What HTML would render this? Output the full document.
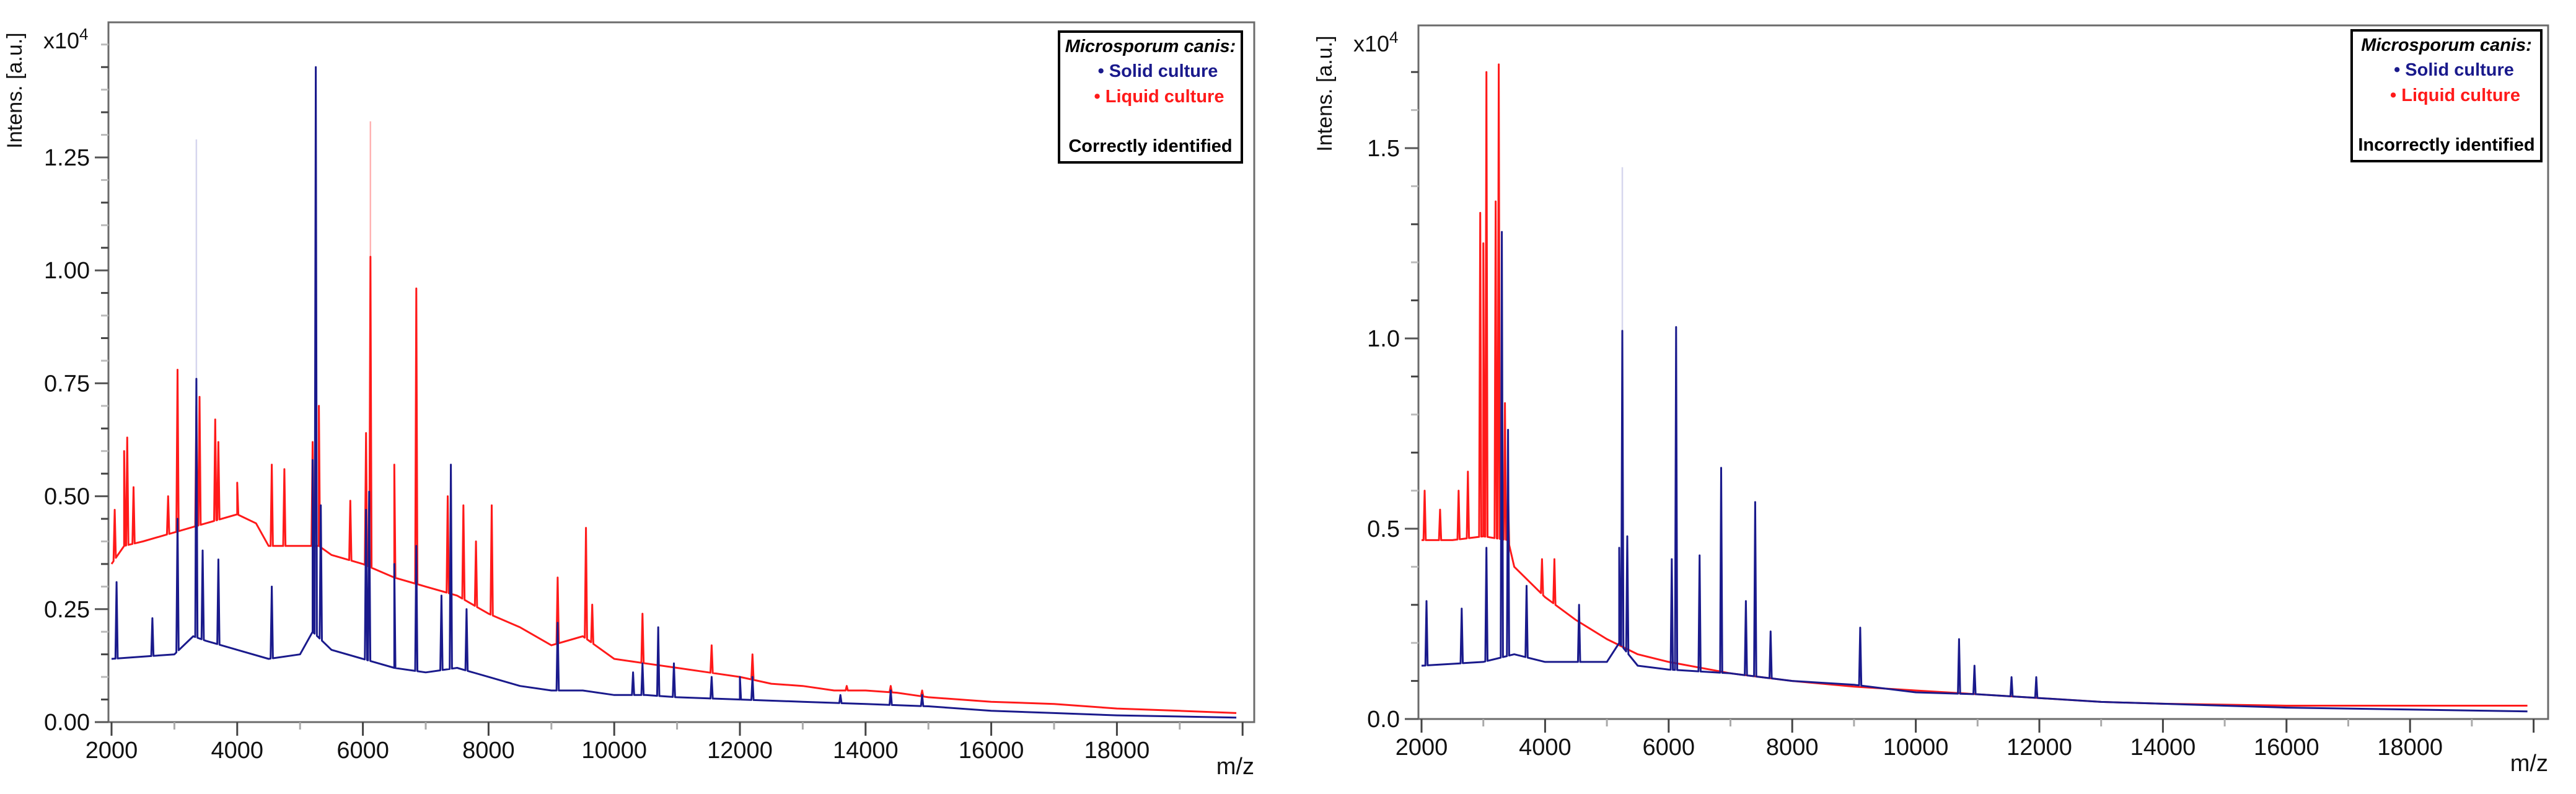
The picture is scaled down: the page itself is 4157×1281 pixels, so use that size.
<!DOCTYPE html>
<html><head><meta charset="utf-8">
<style>
html,body{margin:0;padding:0;background:#fff;}
svg{display:block;font-family:"Liberation Sans",sans-serif;}
.leg{font-family:"Liberation Sans Narrow","Liberation Sans",sans-serif;font-weight:bold;font-size:29px;}
</style></head>
<body>
<svg id="fig" width="4157" height="1281" viewBox="0 0 4157 1281" xmlns="http://www.w3.org/2000/svg">
<g id="left"></g>
<g id="right"></g>
</svg>
<script>
// ---- Left panel data (intensity x10^4) ----
const leftRedBaseMz = [2000,2200,2500,3000,3500,4000,4300,4500,5000,5300,5500,6000,6500,7000,7500,8000,8500,9000,9500,10000,10500,11000,11500,12000,12500,13000,13500,14000,14500,15000,16000,17000,18000,19000,19900];
const leftRedBaseVal = [0.35,0.39,0.40,0.42,0.44,0.46,0.44,0.39,0.39,0.39,0.37,0.35,0.32,0.30,0.28,0.24,0.21,0.17,0.19,0.14,0.13,0.12,0.11,0.10,0.085,0.08,0.07,0.07,0.065,0.055,0.045,0.04,0.03,0.025,0.02];
const leftRedPeakMz = [2050,2200,2250,2350,2900,3050,3350,3400,3650,3700,4000,4550,4750,5200,5300,5800,6050,6120,6500,6850,7350,7600,7800,8050,9100,9550,9650,10450,11550,12200,13700,14400,14900];
const leftRedPeakVal = [0.47,0.60,0.63,0.52,0.50,0.78,0.70,0.72,0.67,0.62,0.53,0.57,0.56,0.62,0.70,0.49,0.64,1.03,0.57,0.96,0.50,0.48,0.40,0.48,0.32,0.43,0.26,0.24,0.17,0.15,0.08,0.08,0.07];
const leftRedFaintMz = [6120,6850];
const leftRedFaintVal = [1.33,0.96];
const leftBlueBaseMz = [2000,3000,3300,3500,4000,4500,5000,5200,5500,6000,6500,7000,7500,8000,8500,9000,9500,10000,10500,11000,12000,13000,14000,15000,16000,17000,18000,19900];
const leftBlueBaseVal = [0.14,0.15,0.19,0.18,0.16,0.14,0.15,0.20,0.16,0.14,0.12,0.11,0.12,0.10,0.08,0.07,0.07,0.06,0.06,0.055,0.05,0.045,0.04,0.035,0.025,0.02,0.015,0.01];
const leftBluePeakMz = [2080,2650,3050,3350,3450,3700,4550,5200,5250,5330,6050,6100,6500,6850,7250,7400,7650,9100,10300,10450,10700,10950,11550,12000,12200,13600,14400,14900];
const leftBluePeakVal = [0.31,0.23,0.45,0.76,0.38,0.36,0.30,0.58,1.45,0.48,0.47,0.51,0.35,0.39,0.28,0.57,0.25,0.22,0.11,0.13,0.21,0.13,0.10,0.10,0.10,0.06,0.07,0.06];
const leftBlueFaintMz = [3350];
const leftBlueFaintVal = [1.29];
const leftYTicks = ["0.00","0.25","0.50","0.75","1.00","1.25"];
const leftYTickVals = [0,0.25,0.5,0.75,1.0,1.25];

// ---- Right panel data ----
const rightRedBaseMz = [2000,2500,3000,3400,3500,4000,4500,5000,5500,6000,7000,8000,9000,10000,11000,12000,13000,14000,16000,19900];
const rightRedBaseVal = [0.47,0.47,0.48,0.47,0.40,0.32,0.26,0.21,0.17,0.15,0.12,0.10,0.085,0.075,0.065,0.055,0.045,0.04,0.035,0.035];
const rightRedPeakMz = [2050,2300,2600,2750,2950,3000,3050,3200,3250,3350,3400,3950,4150];
const rightRedPeakVal = [0.60,0.55,0.60,0.65,1.33,1.25,1.70,1.36,1.72,0.83,0.60,0.42,0.42];
const rightRedFaintMz = [];
const rightRedFaintVal = [];
const rightBlueBaseMz = [2000,3000,3500,4000,5000,5200,5500,6000,7000,8000,9000,10000,11000,12000,13000,14000,16000,19900];
const rightBlueBaseVal = [0.14,0.15,0.17,0.15,0.15,0.20,0.14,0.13,0.12,0.10,0.09,0.07,0.065,0.055,0.045,0.04,0.03,0.02];
const rightBluePeakMz = [2080,2650,3050,3300,3400,3700,4550,5200,5250,5330,6050,6120,6500,6850,7250,7400,7650,9100,10700,10950,11550,11950];
const rightBluePeakVal = [0.31,0.29,0.45,1.28,0.76,0.35,0.30,0.45,1.02,0.48,0.42,1.03,0.43,0.66,0.31,0.57,0.23,0.24,0.21,0.14,0.11,0.11];
const rightBlueFaintMz = [5250];
const rightBlueFaintVal = [1.45];
const rightYTicks = ["0.0","0.5","1.0","1.5"];
const rightYTickVals = [0,0.5,1.0,1.5];
const xTickLabels = ["2000","4000","6000","8000","10000","12000","14000","16000","18000"];
const xTickVals = [2000,4000,6000,8000,10000,12000,14000,16000,18000];

const NS = "http://www.w3.org/2000/svg";
function mk(parent, tag, attrs, text){
  const e = document.createElementNS(NS, tag);
  for (const k in attrs) e.setAttribute(k, attrs[k]);
  if (text !== undefined) e.textContent = text;
  parent.appendChild(e);
  return e;
}
function interp(mzs, vals, m){
  if (m <= mzs[0]) return vals[0];
  for (let i=1;i<mzs.length;i++){
    if (m <= mzs[i]){ const t=(m-mzs[i-1])/(mzs[i]-mzs[i-1]); return vals[i-1]+t*(vals[i]-vals[i-1]); }
  }
  return vals[vals.length-1];
}
function spectrumPath(bMz, bVal, pMz, pVal, X, Y){
  const pts = [];
  for (let i=0;i<bMz.length;i++) pts.push([bMz[i], bVal[i]]);
  for (let i=0;i<pMz.length;i++){
    pts.push([pMz[i]-18, interp(bMz,bVal,pMz[i]-18)]);
    pts.push([pMz[i], pVal[i]]);
    pts.push([pMz[i]+18, interp(bMz,bVal,pMz[i]+18)]);
  }
  pts.sort((a,b)=>a[0]-b[0]);
  return pts.map((p,i)=>(i?"L":"M")+X(p[0]).toFixed(1)+","+Y(p[1]).toFixed(1)).join("");
}

function panel(g, cfg){
  const X = m => cfg.x0 + (m-2000)*cfg.xs;
  const Y = v => cfg.y0 - v*cfg.ys;
  const frame = mk(g,"rect",{x:cfg.left,y:cfg.top,width:cfg.right-cfg.left,height:cfg.y0-cfg.top,fill:"none",stroke:"#6b6b6b","stroke-width":3});
  
  
  for (let v=0; v<=cfg.ymax+1e-9; v+=cfg.minor){
    const major = cfg.yTickVals.some(t=>Math.abs(t-v)<1e-6);
    const t = mk(g,"line",{x1:cfg.left-(major?22:12),x2:cfg.left,y1:Y(v),y2:Y(v),stroke:major?"#555":(Math.round(v/cfg.minor)%2?"#444":"#bbb"),"stroke-width":3});
    
    
  }
  cfg.yTickVals.forEach((v,i)=>{
    const l = mk(g,"text",{x:cfg.left-30,y:Y(v)+13,"text-anchor":"end","font-size":38,fill:"#111"},cfg.yTicks[i]);
    
    
  });
  for (let m=2000; m<=20000; m+=1000){
    const major = m%2000===0;
    const t = mk(g,"line",{x1:X(m),x2:X(m),y1:cfg.y0,y2:cfg.y0+(major?22:12),stroke:major?"#444":"#aaa","stroke-width":3});
    
    
  }
  xTickVals.forEach((m,i)=>{
    const l = mk(g,"text",{x:X(m),y:cfg.y0+58,"text-anchor":"middle","font-size":38,fill:"#111"},xTickLabels[i]);
    
    
  });
  const mz = mk(g,"text",{x:cfg.right,y:cfg.y0+84,"text-anchor":"end","font-size":38,fill:"#111"},"m/z");
  
  
  const yt = mk(g,"text",{transform:`translate(${cfg.left-140},${cfg.top+110}) rotate(-90)`,"text-anchor":"middle","font-size":34,fill:"#111"},"Intens. [a.u.]");
  
  
  const ex = mk(g,"text",{x:cfg.left-105,y:cfg.top+42,"font-size":36,fill:"#111"},"x10");
  
  
  mk(ex,"tspan",{dy:-14,"font-size":26},"4");
  // faint peak tops
  for (let i=0;i<cfg.rfm.length;i++){
    const f = mk(g,"line",{x1:X(cfg.rfm[i]),x2:X(cfg.rfm[i]),y1:Y(cfg.rfv[i]),y2:Y(cfg.rfv[i]*0.5),stroke:"#ffb3b3","stroke-width":2.5});
    
    
  }
  for (let i=0;i<cfg.bfm.length;i++){
    const f = mk(g,"line",{x1:X(cfg.bfm[i]),x2:X(cfg.bfm[i]),y1:Y(cfg.bfv[i]),y2:Y(cfg.bfv[i]*0.5),stroke:"#d6d6ee","stroke-width":2.5});
    
    
  }
  const red = mk(g,"path",{d:spectrumPath(cfg.rbm,cfg.rbv,cfg.rpm,cfg.rpv,X,Y),fill:"none",stroke:"#ff1a1a","stroke-width":3,"stroke-linejoin":"round"});
  
  
  const blue = mk(g,"path",{d:spectrumPath(cfg.bbm,cfg.bbv,cfg.bpm,cfg.bpv,X,Y),fill:"none",stroke:"#1a1a8c","stroke-width":3,"stroke-linejoin":"round"});
  
  
  const lg = mk(g,"g",{class:"leg"});
  
  
  mk(lg,"rect",{x:cfg.lx,y:cfg.ly,width:cfg.lw,height:211,fill:"#fff",stroke:"#000","stroke-width":4});
  const t1 = mk(lg,"text",{x:cfg.lx+cfg.lw/2,y:cfg.ly+33,"text-anchor":"middle","font-style":"italic",fill:"#000"},"Microsporum canis:");
  
  
  const e1 = mk(lg,"text",{x:cfg.lx+cfg.lw/2+12,y:cfg.ly+73,"text-anchor":"middle",fill:"#1a1a8c"},"• Solid culture");
  
  
  const e2 = mk(lg,"text",{x:cfg.lx+cfg.lw/2+14,y:cfg.ly+114,"text-anchor":"middle",fill:"#ff1a1a"},"• Liquid culture");
  
  
  const n = mk(lg,"text",{x:cfg.lx+cfg.lw/2,y:cfg.ly+194,"text-anchor":"middle",fill:"#000"},cfg.note);
  
  
}

panel(document.getElementById("left"),{
  left:175,right:2024,top:36,y0:1165,x0:180,xs:0.1014,ys:728.8,ymax:1.5,minor:0.05,
  yTicks:leftYTicks,yTickVals:leftYTickVals,
  rbm:leftRedBaseMz,rbv:leftRedBaseVal,rpm:leftRedPeakMz,rpv:leftRedPeakVal,rfm:leftRedFaintMz,rfv:leftRedFaintVal,
  bbm:leftBlueBaseMz,bbv:leftBlueBaseVal,bpm:leftBluePeakMz,bpv:leftBluePeakVal,bfm:leftBlueFaintMz,bfv:leftBlueFaintVal,
  lx:1709,ly:51,lw:295,note:"Correctly identified"});
panel(document.getElementById("right"),{
  left:2289,right:4112,top:41,y0:1160,x0:2294,xs:0.0997,ys:614,ymax:1.75,minor:0.1,
  yTicks:rightYTicks,yTickVals:rightYTickVals,
  rbm:rightRedBaseMz,rbv:rightRedBaseVal,rpm:rightRedPeakMz,rpv:rightRedPeakVal,rfm:rightRedFaintMz,rfv:rightRedFaintVal,
  bbm:rightBlueBaseMz,bbv:rightBlueBaseVal,bpm:rightBluePeakMz,bpv:rightBluePeakVal,bfm:rightBlueFaintMz,bfv:rightBlueFaintVal,
  lx:3795,ly:49,lw:306,note:"Incorrectly identified"});
</script>
</body></html>
